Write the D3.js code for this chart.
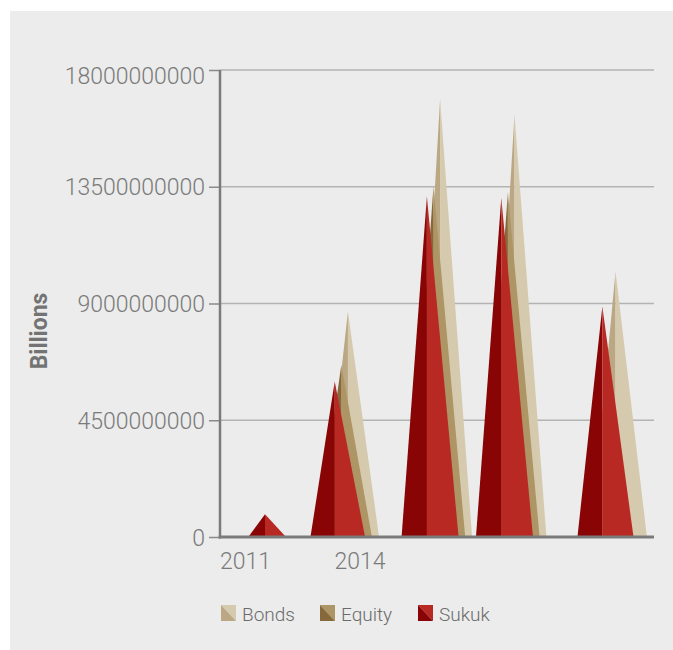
<!DOCTYPE html>
<html>
<head>
<meta charset="utf-8">
<script src="https://cdn.jsdelivr.net/npm/d3@7"></script>
<style>
  html, body { margin: 0; padding: 0; background: #ffffff; }
  svg { display: block; }
</style>
</head>
<body>
<script>
// ---- data ----
const periods = ["2011-09-12", "2013-07-10", "2015-12-09", "2017-11-20", "2020-07-14"];
const seriesNames = ["Bonds", "Equity", "Sukuk"];
const bonds  = [0, 8690000000, 16870000000, 16270000000, 10230000000];
const equity = [0, 6630000000, 13520000000, 13290000000, 0];
const sukuk  = [880000000, 5990000000, 13130000000, 13070000000, 8880000000];
const yTicks = [0, 4500000000, 9000000000, 13500000000, 18000000000];
const xTickYears = ["2011-01-01", "2014-01-01"];
const yTitle = "Billions";

// ---- layout / style ----
const W = 673, H = 650;
const plot = { left: 220, right: 654, top: 70, bottom: 537 };
const colors = {
  Bonds:  { dark: "#bba784", light: "#d6caae" },
  Equity: { dark: "#86683a", light: "#ae9565" },
  Sukuk:  { dark: "#890404", light: "#b82923" }
};
const seriesOffset = { Bonds: 6.6, Equity: 0, Sukuk: -6.6 };
const halfLeft = 26.3, halfRight = 32.9, baseDepth = 13;
const textGray = "#7a7a7a";
const font = "Roboto, 'Liberation Sans', sans-serif";

const parse = d3.timeParse("%Y-%m-%d");
const values = { Bonds: bonds, Equity: equity, Sukuk: sukuk };

const svg = d3.select("body").append("svg").attr("width", W).attr("height", H);

svg.append("rect").attr("x", 10).attr("y", 11).attr("width", W - 10).attr("height", H - 11)
  .attr("fill", "#ebeceb");

const x = d3.scaleTime()
  .domain([parse("2010-05-06"), parse("2021-09-18")])
  .range([plot.left, plot.right]);
const y = d3.scaleLinear().domain([0, 18000000000]).range([plot.bottom, plot.top]);

// gridlines
svg.append("g").selectAll("line").data(yTicks.filter(d => d > 0)).join("line")
  .attr("x1", plot.left).attr("x2", plot.right)
  .attr("y1", d => y(d)).attr("y2", d => y(d))
  .attr("stroke", "#b2b3b2").attr("stroke-width", 1.5);

// y axis
const yAxis = svg.append("g").attr("transform", `translate(${plot.left},0)`)
  .call(d3.axisLeft(y).tickValues(yTicks).tickSize(11).tickPadding(4).tickFormat(d3.format("d")));
yAxis.select(".domain").remove();
yAxis.selectAll(".tick line").attr("stroke", "#8a8a8a").attr("stroke-width", 1.5);
yAxis.selectAll(".tick text")
  .attr("font-family", font).attr("font-weight", 300).attr("font-size", 23)
  .attr("fill", textGray)
  .attr("dy", d => d === 18000000000 ? "0.6em" : "0.35em");

// clip for pyramids
svg.append("clipPath").attr("id", "clip").append("rect")
  .attr("x", 0).attr("y", 0).attr("width", W).attr("height", plot.bottom);

const gP = svg.append("g").attr("clip-path", "url(#clip)");
const baseY = plot.bottom + baseDepth;

seriesNames.forEach(name => {
  const vals = values[name];
  const data = periods.map((p, i) => ({ date: parse(p), v: vals[i] })).filter(d => d.v > 0);
  const g = gP.append("g");
  g.selectAll("path.l").data(data).join("path").attr("class", "l")
    .attr("d", d => {
      const ax = x(d.date) + seriesOffset[name], ay = y(d.v);
      return `M${ax - halfLeft},${baseY}L${ax},${ay}L${ax},${baseY}Z`;
    })
    .attr("fill", colors[name].dark);
  g.selectAll("path.r").data(data).join("path").attr("class", "r")
    .attr("d", d => {
      const ax = x(d.date) + seriesOffset[name], ay = y(d.v);
      return `M${ax},${baseY}L${ax},${ay}L${ax + halfRight},${baseY}Z`;
    })
    .attr("fill", colors[name].light);
});

// axis lines
svg.append("line").attr("x1", plot.left).attr("x2", plot.left)
  .attr("y1", plot.top).attr("y2", plot.bottom + 1.5)
  .attr("stroke", "#7b7b7b").attr("stroke-width", 2.5);
svg.append("line").attr("x1", plot.left - 1.25).attr("x2", plot.right)
  .attr("y1", plot.bottom).attr("y2", plot.bottom)
  .attr("stroke", "#7b7b7b").attr("stroke-width", 3);

// x axis labels
const xAxis = svg.append("g").attr("transform", `translate(0,${plot.bottom})`)
  .call(d3.axisBottom(x).tickValues(xTickYears.map(parse)).tickSize(0).tickPadding(16)
    .tickFormat(d3.timeFormat("%Y")));
xAxis.select(".domain").remove();
xAxis.selectAll(".tick text")
  .attr("font-family", font).attr("font-weight", 300).attr("font-size", 23)
  .attr("fill", textGray);

// y title
svg.append("text")
  .attr("transform", "translate(47,331) rotate(-90)")
  .attr("text-anchor", "middle")
  .attr("font-family", font).attr("font-weight", 700).attr("font-size", 23)
  .attr("fill", "#737373")
  .text(yTitle);

// legend
const legendX = [221, 320, 418];
const legend = svg.append("g");
seriesNames.forEach((name, i) => {
  const lg = legend.append("g").attr("transform", `translate(${legendX[i]},605)`);
  lg.append("path").attr("d", "M0,0L15,0L15,16Z").attr("fill", colors[name].light);
  lg.append("path").attr("d", "M0,0L15,16L0,16Z").attr("fill", colors[name].dark);
  lg.append("text").attr("x", 21).attr("y", 15.5)
    .attr("font-family", font).attr("font-weight", 300).attr("font-size", 19)
    .attr("fill", "#6b6b6b").text(name);
});
</script>
</body>
</html>
